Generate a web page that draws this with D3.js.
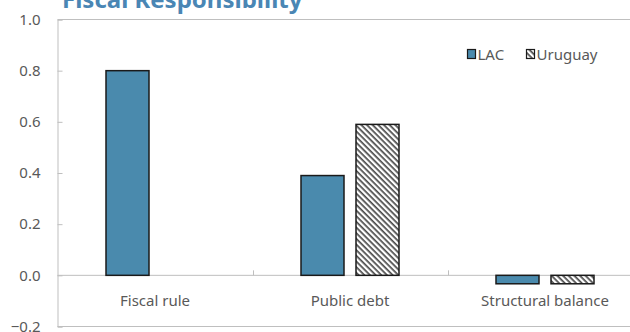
<!DOCTYPE html>
<html>
<head>
<meta charset="utf-8">
<script src="https://cdn.jsdelivr.net/npm/d3@7"></script>
<style>
  html, body { margin: 0; padding: 0; background: #fff; overflow: hidden; }
  svg { display: block; }
</style>
</head>
<body>
<svg id="chart" width="630" height="332"></svg>
<script>
// ---- data ----
const title = "Fiscal Responsibility";
const categories = ["Fiscal rule", "Public debt", "Structural balance"];
const seriesNames = ["LAC", "Uruguay"];
const lacValues = [0.80, 0.39, -0.033];
const uruguayValues = [null, 0.59, -0.033];
const yTicks = [-0.2, 0.0, 0.2, 0.4, 0.6, 0.8, 1.0];

(function () {
// ---- layout ----
const W = 630, H = 332;
const plotLeft = 57.5, plotTop = 19.5, plotBottom = 326.5, bandW = 195;
const font = "'Noto Sans', 'Open Sans', sans-serif";
const fs = "15px";
const textColor = "#595959";
const gridColor = "#bfbfbf";
const lacColor = "#4a8aad";

const svg = d3.select("#chart");

const defs = svg.append("defs");
const pat = defs.append("pattern")
  .attr("id", "hatch")
  .attr("patternUnits", "userSpaceOnUse")
  .attr("width", 4).attr("height", 4)
  .attr("patternTransform", "rotate(45)");
pat.append("rect").attr("width", 4).attr("height", 4).attr("fill", "#fff");
pat.append("rect").attr("x", 0).attr("y", 0).attr("width", 4).attr("height", 1.7).attr("fill", "#4a4a4a");

const x0 = d3.scaleBand().domain(categories)
  .range([plotLeft, plotLeft + bandW * categories.length]).padding(0);
const x1 = d3.scaleBand().domain(seriesNames)
  .range([48.5, 146.5]).paddingInner(12 / 55).paddingOuter(0);
const y = d3.scaleLinear().domain([-0.2, 1.0]).range([plotBottom, plotTop]);

// frame
svg.append("line").attr("x1", plotLeft).attr("x2", W).attr("y1", plotTop).attr("y2", plotTop)
  .attr("stroke", gridColor).attr("stroke-width", 1);
svg.append("line").attr("x1", plotLeft).attr("x2", W).attr("y1", plotBottom).attr("y2", plotBottom)
  .attr("stroke", gridColor).attr("stroke-width", 1);

// y axis
const yAxis = d3.axisRight(y).tickValues(yTicks).tickSize(5).tickFormat(d3.format(".1f"));
const gy = svg.append("g").attr("transform", `translate(${plotLeft},0)`).call(yAxis);
gy.select(".domain").attr("stroke", gridColor);
gy.selectAll(".tick line").attr("stroke", gridColor);
gy.selectAll(".tick text")
  .attr("x", -17).attr("text-anchor", "end")
  .attr("fill", textColor).style("font-family", font).style("font-size", fs);

// zero line
svg.append("line").attr("x1", plotLeft).attr("x2", W).attr("y1", y(0)).attr("y2", y(0))
  .attr("stroke", gridColor).attr("stroke-width", 1);

// category ticks (band boundaries)
svg.append("g").selectAll("line")
  .data(categories.slice(1))
  .join("line")
  .attr("x1", d => Math.round(x0(d)) + 0.5).attr("x2", d => Math.round(x0(d)) + 0.5)
  .attr("y1", y(0) - 5).attr("y2", y(0))
  .attr("stroke", gridColor);

// bars
const rows = categories.map((c, i) => ({ c, vals: [lacValues[i], uruguayValues[i]] }));
const g = svg.append("g");
rows.forEach(r => {
  r.vals.forEach((v, j) => {
    if (v === null) return;
    const s = seriesNames[j];
    g.append("rect")
      .attr("x", x0(r.c) + x1(s))
      .attr("y", y(Math.max(0, v)))
      .attr("width", x1.bandwidth())
      .attr("height", Math.abs(y(v) - y(0)))
      .attr("fill", j === 0 ? lacColor : "url(#hatch)")
      .attr("stroke", "#1a1a1a").attr("stroke-width", 1.5);
  });
});

// category labels
svg.append("g").selectAll("text")
  .data(categories)
  .join("text")
  .attr("x", d => x0(d) + x0.bandwidth() / 2)
  .attr("y", 306)
  .attr("text-anchor", "middle")
  .attr("fill", textColor).style("font-family", font).style("font-size", fs)
  .text(d => d);

// legend
const legend = svg.append("g");
const legendX = [467.5, 526.5];
seriesNames.forEach((s, j) => {
  legend.append("rect")
    .attr("x", legendX[j]).attr("y", 49.5)
    .attr("width", 8).attr("height", 9)
    .attr("fill", j === 0 ? lacColor : "url(#hatch)")
    .attr("stroke", "#1a1a1a").attr("stroke-width", 1.2);
  legend.append("text")
    .attr("x", legendX[j] + 10).attr("y", 59.5)
    .attr("fill", textColor).style("font-family", font).style("font-size", fs)
    .text(s);
});

// title
svg.append("text")
  .attr("x", 62).attr("y", 7.5)
  .attr("fill", "#4a86b4")
  .style("font-family", font).style("font-size", "24px").style("font-weight", "bold")
  .text(title);
})();
</script>
</body>
</html>
